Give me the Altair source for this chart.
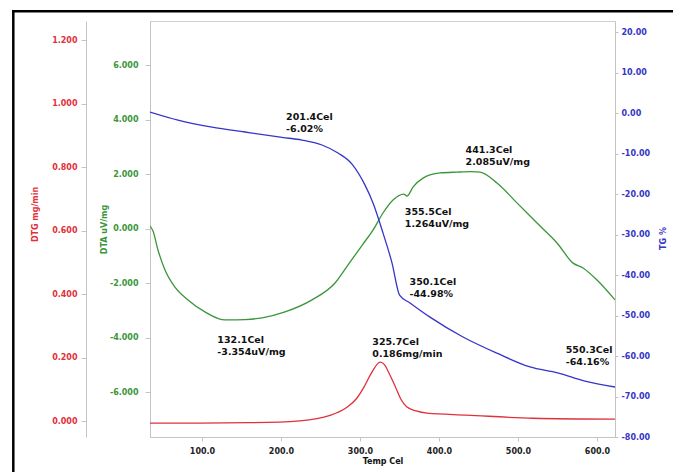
import altair as alt
import pandas as pd

# ---------------- data ----------------
tg_temp = [34.2, 69.6, 112.7, 154.5, 201.4, 226.6, 251.9, 272.2, 289.9, 306.4, 316.5,
           329.1, 340.5, 350.1, 363.3, 388.6, 430.4, 473.4, 515.2, 550.3, 584.8, 622.8]
tg_val = [0.25, -1.73, -3.46, -4.69, -6.02, -6.67, -7.9, -9.88, -12.6, -17.8, -22.2,
          -29.6, -37.0, -44.98, -46.9, -50.4, -55.3, -59.3, -62.7, -64.16, -66.2, -67.65]

dta_temp = [34.2, 38.0, 44.3, 53.2, 65.8, 82.3, 103.8, 125.3, 132.1, 154.5, 176.0, 205.1,
            239.3, 268.4, 287.4, 303.8, 316.5, 329.1, 341.8, 355.5, 359.5, 367.1, 379.8,
            401.3, 422.8, 441.3, 452.0, 473.4, 498.7, 524.1, 549.4, 569.7, 582.3, 600.0, 622.8]
dta_val = [0.09, -0.09, -0.79, -1.52, -2.15, -2.62, -3.06, -3.34, -3.354, -3.34, -3.28, -3.06,
           -2.62, -2.0, -1.23, -0.57, -0.06, 0.57, 1.05, 1.264, 1.19, 1.52, 1.85,
           2.04, 2.07, 2.085, 2.07, 1.67, 0.94, 0.20, -0.53, -1.27, -1.45, -1.89, -2.62]

dtg_temp = [34.2, 97.0, 160.0, 224.0, 262.0, 283.0, 296.0, 305.0, 313.0, 325.7, 331.0,
            337.0, 345.0, 352.0, 359.0, 371.0, 385.0, 435.0, 519.0, 622.8]
dtg_val = [-0.006, -0.006, -0.005, 0.001, 0.018, 0.043, 0.072, 0.107, 0.145, 0.186, 0.178,
           0.150, 0.107, 0.068, 0.045, 0.032, 0.025, 0.019, 0.009, 0.006]

# annotated points
tg_ann_temp = [201.4, 350.1, 550.3]
tg_ann_val = [-6.02, -44.98, -64.16]
tg_ann_text = ["201.4Cel\n-6.02%", "350.1Cel\n-44.98%", "550.3Cel\n-64.16%"]

dta_ann_temp = [132.1, 355.5, 441.3]
dta_ann_val = [-3.354, 1.264, 2.085]
dta_ann_text = ["132.1Cel\n-3.354uV/mg", "355.5Cel\n1.264uV/mg", "441.3Cel\n2.085uV/mg"]

dtg_ann_temp = [325.7]
dtg_ann_val = [0.186]
dtg_ann_text = ["325.7Cel\n0.186mg/min"]

x_ticks = [100, 200, 300, 400, 500, 600]
tg_ticks = [-80, -70, -60, -50, -40, -30, -20, -10, 0, 10, 20]
dta_ticks = [-6, -4, -2, 0, 2, 4, 6]
dtg_ticks = [0.0, 0.2, 0.4, 0.6, 0.8, 1.0, 1.2]

# ---------------- style ----------------
W, H = 465, 416
FONT = "DejaVu Sans"
BLUE = "#3535c8"
GREEN = "#3a963a"
RED = "#e0303c"
AXIS_GRAY = "#c4c4c4"

ann_offsets = {
    201.4: (4, -17), 350.1: (10, -10), 550.3: (8, -20),
    132.1: (-10, 23), 355.5: (1, 21), 441.3: (-6, -19),
    325.7: (-8, -17),
}


def xs():
    return alt.Scale(domain=[34.2, 622.8], nice=False, zero=False)


def tg_s():
    return alt.Scale(domain=[-80.0, 22.72], nice=False, zero=False)


def dta_s():
    return alt.Scale(domain=[-7.65, 7.615], nice=False, zero=False)


def dtg_s():
    return alt.Scale(domain=[-0.050, 1.260], nice=False, zero=False)


common = dict(grid=False, labelFont=FONT, labelFontSize=8, labelFontWeight="bold",
              titleFont=FONT, titleFontSize=8, titleFontWeight="bold",
              domainColor=AXIS_GRAY, tickColor=AXIS_GRAY)


def hyphen(fmt):
    return "replace(format(datum.value, '%s'), '\u2212', '-')" % fmt


def x_axis():
    return alt.Axis(values=x_ticks, labelExpr=hyphen(".1f"), title="Temp Cel", orient="bottom",
                    labelColor="#222222", titleColor="#111111", tickSize=4, labelPadding=6,
                    titlePadding=2, **common)


tg_axis = alt.Axis(values=tg_ticks, labelExpr=hyphen(".2f"), title="TG %", orient="right",
                   labelColor=BLUE, titleColor=BLUE, tickSize=3, labelPadding=3,
                   titleAngle=270, titlePadding=18, titleY=217, **common)
dta_axis = alt.Axis(values=dta_ticks, labelExpr=hyphen(".3f"), title="DTA uV/mg", orient="left",
                    labelColor=GREEN, titleColor=GREEN, tickSize=5, labelPadding=7,
                    titleAngle=270, titlePadding=1, **common)
dtg_axis = alt.Axis(values=dtg_ticks, labelExpr=hyphen(".3f"), title="DTG mg/min", orient="left",
                    offset=64, labelColor=RED, titleColor=RED, tickSize=5, labelPadding=4,
                    titleAngle=270, titlePadding=12, titleY=193, **common)


def curve(temps, vals, color, yscale, yaxis):
    df = pd.DataFrame({"T": temps, "v": vals})
    return alt.Chart(df).mark_line(color=color, strokeWidth=1.3, interpolate="monotone",
                                   clip=True).encode(
        x=alt.X("T:Q", scale=xs(), axis=x_axis(), title="Temp Cel"),
        y=alt.Y("v:Q", scale=yscale, axis=yaxis),
    )


def labels(temps, vals, texts, scale_fn):
    layers = []
    for t, v, s in zip(temps, vals, texts):
        dx, dy = ann_offsets[t]
        df = pd.DataFrame({"T": [t], "v": [v], "label": [s]})
        layers.append(
            alt.Chart(df).mark_text(font=FONT, fontSize=9.5, fontWeight="bold", color="#111111",
                                    align="left", baseline="alphabetic", lineBreak="\n",
                                    lineHeight=12, dx=dx, dy=dy).encode(
                x=alt.X("T:Q", scale=xs(), axis=x_axis(), title="Temp Cel"),
                y=alt.Y("v:Q", scale=scale_fn(), axis=None),
                text="label:N",
            )
        )
    return layers


layers = [
    curve(dtg_temp, dtg_val, RED, dtg_s(), dtg_axis),
    curve(dta_temp, dta_val, GREEN, dta_s(), dta_axis),
    curve(tg_temp, tg_val, BLUE, tg_s(), tg_axis),
]
layers += labels(dtg_ann_temp, dtg_ann_val, dtg_ann_text, dtg_s)
layers += labels(dta_ann_temp, dta_ann_val, dta_ann_text, dta_s)
layers += labels(tg_ann_temp, tg_ann_val, tg_ann_text, tg_s)

one = alt.Data(values=[{"k": 1}])
frame_top = alt.Chart(one).mark_rule(color="black", strokeWidth=2.5).encode(
    x=alt.value(-138), x2=alt.value(W + 70), y=alt.value(-9.7))
frame_left = alt.Chart(one).mark_rule(color="black", strokeWidth=2.5).encode(
    x=alt.value(-136.7), y=alt.value(-11), y2=alt.value(H + 60))

chart = alt.layer(*layers, frame_top, frame_left).resolve_scale(
    y="independent"
).properties(
    width=W, height=H,
    autosize=alt.AutoSizeParams(type="none"),
    padding={"left": 150, "top": 21, "right": 58, "bottom": 35},
    background="white",
).configure_view(stroke="#d0d0d0", strokeWidth=1)

chart.save("out.html", embed_options={"renderer": "svg", "actions": False})
